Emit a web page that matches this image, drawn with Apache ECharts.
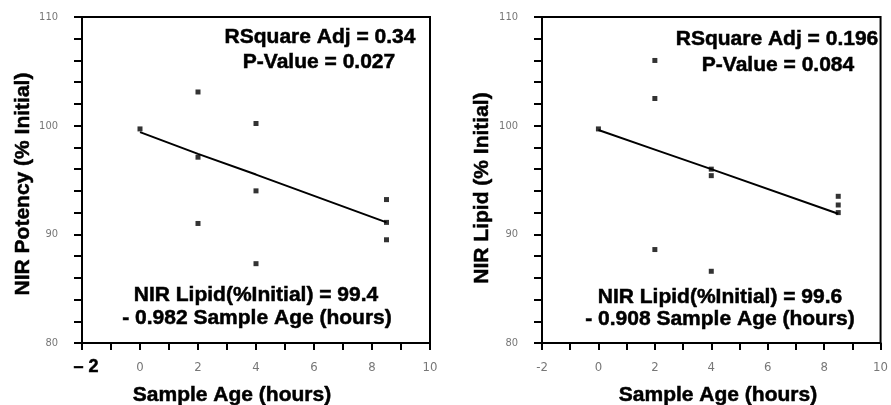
<!DOCTYPE html>
<html>
<head>
<meta charset="utf-8">
<script src="https://cdn.jsdelivr.net/npm/echarts@6/dist/echarts.min.js"></script>
<style>
html,body{margin:0;padding:0;background:#fff;}
#chart{width:891px;height:405px;}
</style>
</head>
<body>
<div id="chart"></div>
<script>
// Sample ages (hours) of each measured sample
const ages = [0, 2, 2, 2, 4, 4, 4, 8.5, 8.5, 8.5];
// Left panel: NIR Potency (% Initial)
const potency = [99.7, 103.1, 97.1, 91.0, 100.2, 94.0, 87.3, 93.2, 91.1, 89.5];
// Right panel: NIR Lipid (% Initial)
const lipid = [99.7, 106.0, 102.5, 88.6, 96.0, 95.4, 86.6, 93.5, 92.7, 92.0];
// Fitted lines
const fitAges = [0, 2, 4, 8.5];
const potencyFit = [99.4, 97.4, 95.5, 91.1];
const lipidFit = [99.6, 97.8, 96.0, 91.9];
// Axis ranges / labelled ticks
const xTicks = [-2, 0, 2, 4, 6, 8, 10];
const yTicks = [80, 90, 100, 110];
const xMinorStep = 1;
const yMinorStep = 2;

const leftTitleY = 'NIR Potency (% Initial)';
const rightTitleY = 'NIR Lipid (% Initial)';
const xTitle = 'Sample Age (hours)';
const leftFirstXLabel = '– 2';
const leftStats = ['RSquare Adj = 0.34', 'P-Value = 0.027'];
const rightStats = ['RSquare Adj = 0.196', 'P-Value = 0.084'];
const leftEq = ['NIR Lipid(%Initial) = 99.4', '- 0.982 Sample Age (hours)'];
const rightEq = ['NIR Lipid(%Initial) = 99.6', '- 0.908 Sample Age (hours)'];

const pairs = (xs, ys) => xs.map((x, i) => [x, ys[i]]);

const BOLD = 'bold 21px "Liberation Sans", Arial, sans-serif';
const tickFont = '"Liberation Sans Narrow", "DejaVu Sans Condensed", sans-serif';

function xAxisCfg(gridIndex, skipFirst) {
  return {
    type: 'value', gridIndex: gridIndex,
    min: xTicks[0], max: xTicks[xTicks.length - 1], interval: xMinorStep,
    axisLine: { show: true, lineStyle: { color: '#000', width: 2 } },
    axisTick: { show: true, length: 7, lineStyle: { color: '#000', width: 2 } },
    splitLine: { show: false },
    axisLabel: {
      margin: 18, fontSize: 13, fontFamily: tickFont, color: '#777',
      formatter: function (v) {
        if (xTicks.indexOf(v) < 0) return '';
        if (skipFirst && v === xTicks[0]) return '';
        return String(v);
      }
    }
  };
}
function yAxisCfg(gridIndex) {
  return {
    type: 'value', gridIndex: gridIndex,
    min: yTicks[0], max: yTicks[yTicks.length - 1], interval: yMinorStep,
    axisLine: { show: true, onZero: false, lineStyle: { color: '#000', width: 2 } },
    axisTick: { show: true, length: 8, lineStyle: { color: '#000', width: 2 } },
    splitLine: { show: false },
    axisLabel: {
      margin: 24, fontSize: 11, fontFamily: tickFont, color: '#777',
      formatter: function (v) { return yTicks.indexOf(v) < 0 ? '' : String(v); }
    }
  };
}

function txt(text, x, y, rot, font) {
  return {
    type: 'text', x: x, y: y, rotation: rot || 0,
    style: { text: text, font: font || BOLD, fill: '#000', stroke: '#000', lineWidth: 0.5, textAlign: 'center', textVerticalAlign: 'middle' }
  };
}

const chart = echarts.init(document.getElementById('chart'), null, { renderer: 'canvas' });
chart.setOption({
  backgroundColor: '#fff',
  animation: false,
  grid: [
    { left: 82, top: 17, width: 348, height: 326, show: true, borderColor: '#000', borderWidth: 2 },
    { left: 542, top: 17, width: 350, height: 326, show: true, borderColor: '#000', borderWidth: 2 }
  ],
  xAxis: [xAxisCfg(0, true), xAxisCfg(1, false)],
  yAxis: [yAxisCfg(0), yAxisCfg(1)],
  series: [
    { type: 'line', xAxisIndex: 0, yAxisIndex: 0, data: pairs(fitAges, potencyFit), symbol: 'none',
      lineStyle: { color: '#000', width: 2 }, z: 2 },
    { type: 'scatter', xAxisIndex: 0, yAxisIndex: 0, data: pairs(ages, potency), symbol: 'rect', symbolSize: 5,
      itemStyle: { color: '#000' }, z: 3 },
    { type: 'line', xAxisIndex: 1, yAxisIndex: 1, data: pairs(fitAges, lipidFit), symbol: 'none',
      lineStyle: { color: '#000', width: 2 }, z: 2 },
    { type: 'scatter', xAxisIndex: 1, yAxisIndex: 1, data: pairs(ages, lipid), symbol: 'rect', symbolSize: 5,
      itemStyle: { color: '#000' }, z: 3 }
  ],
  graphic: [
    txt(leftFirstXLabel, 86, 367, 0, 'bold 18px "Liberation Sans", Arial, sans-serif'),
    txt(leftTitleY, 23, 184, Math.PI / 2),
    txt(rightTitleY, 482, 188, Math.PI / 2),
    txt(xTitle, 232, 395),
    txt(xTitle, 718, 395),
    txt(leftStats[0], 320, 37),
    txt(leftStats[1], 319, 62),
    txt(leftEq[0], 256, 295),
    txt(leftEq[1], 257, 318),
    txt(rightStats[0], 777, 39),
    txt(rightStats[1], 778, 65),
    txt(rightEq[0], 720, 297),
    txt(rightEq[1], 720, 319)
  ]
});
</script>
</body>
</html>
